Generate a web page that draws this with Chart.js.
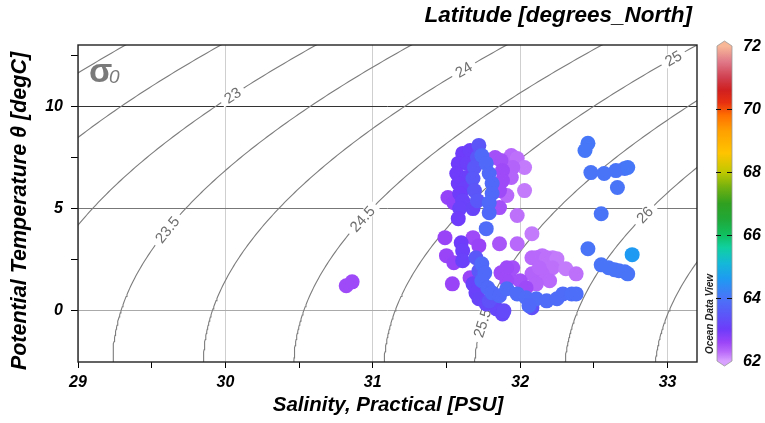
<!DOCTYPE html>
<html>
<head>
<meta charset="utf-8">
<script src="https://cdn.jsdelivr.net/npm/chart.js@4.4.1/dist/chart.umd.min.js"></script>
<style>
  html, body { margin: 0; padding: 0; background: #fff; }
</style>
</head>
<body>
<canvas id="myChart" width="765" height="423"></canvas>
<script>
// station samples: salinity [PSU], potential temperature [degC], latitude [degN]
const salinity = [
  31.94, 31.98, 32.03, 31.95, 31.94, 31.91, 32.03, 31.98, 31.98, 32.08, 32.08, 32.15, 32.22, 32.11, 32.18, 32.25, 32.22, 32.31, 32.38, 32.15, 32.08, 32.20, 32.11, 32.13, 31.86,
  30.82, 30.86, 31.83, 31.87, 31.88, 31.88, 31.86, 31.51, 31.55, 31.86, 31.49, 31.68, 31.72, 31.50, 31.55, 31.54, 31.66, 31.87, 31.93, 32.00, 31.95, 31.91, 31.91, 32.04,
  31.61, 31.66, 31.58, 31.64, 31.57, 31.64, 31.58, 31.62, 31.59, 31.61, 31.59, 31.68, 31.58, 31.60, 31.61, 31.61, 31.68, 31.70, 31.72, 31.77, 31.84, 31.88, 31.89,
  31.72, 31.71, 31.69, 31.68, 31.69, 31.71, 31.70, 31.72, 31.79, 32.08,
  31.74, 31.77, 31.79, 31.81, 31.81, 31.79, 31.79, 31.77, 31.74, 31.76, 31.74, 31.78, 31.81, 31.86, 31.91, 31.98, 32.04, 32.11, 32.18, 32.25, 32.29, 32.35, 32.38, 32.06,
  32.46, 32.44, 32.48, 32.57, 32.65, 32.71, 32.73, 32.66, 32.55, 32.46, 32.55, 32.60, 32.64, 32.67, 32.71, 32.73, 32.76
];
const potTemp = [
  7.60, 7.45, 7.01, 7.01, 6.52, 5.64, 5.88, 4.66, 3.28, 3.77, 2.60, 2.70, 2.60, 2.60, 2.60, 2.55, 2.11, 2.06, 1.81, 1.81, 1.81, 1.47, 1.32, 2.11, 3.28,
  1.23, 1.42, 7.50, 7.35, 6.86, 6.37, 5.88, 5.54, 5.29, 5.05, 3.58, 3.58, 3.19, 2.70, 2.35, 1.32, 1.62, 1.86, 1.62, 1.47, 2.11, 2.11, 1.47, 1.13,
  7.70, 7.84, 7.21, 7.21, 6.72, 6.52, 6.23, 5.98, 5.74, 5.39, 5.00, 5.00, 4.51, 3.33, 2.94, 2.45, 1.32, 0.88, 0.59, 0.34, 0.10, -0.15, 0.00,
  8.09, 7.50, 7.01, 6.47, 5.88, 5.39, 2.60, 1.96, 0.49, 0.15,
  7.60, 7.21, 6.72, 6.23, 5.74, 5.29, 4.80, 4.02, 2.30, 1.86, 1.47, 1.13, 0.88, 0.74, 1.08, 0.83, 0.64, 0.59, 0.49, 0.59, 0.83, 0.83, 0.83, 0.25,
  8.19, 7.84, 6.76, 6.72, 6.86, 6.96, 7.01, 6.03, 4.75, 3.04, 2.25, 2.11, 2.01, 1.96, 1.91, 1.81, 2.75
];
const latitude = [
  62.3, 62.25, 62.2, 62.35, 62.35, 62.3, 62.2, 62.25, 62.3, 62.2, 62.3, 62.25, 62.2, 62.3, 62.25, 62.2, 62.25, 62.2, 62.25, 62.3, 62.35, 62.3, 62.35, 62.3, 62.45,
  62.55, 62.55, 62.5, 62.5, 62.55, 62.55, 62.55, 62.65, 62.7, 62.5, 62.6, 62.55, 62.6, 62.6, 62.65, 62.6, 62.6, 62.55, 62.5, 62.5, 62.5, 62.55, 62.55, 62.55,
  63.0, 63.05, 63.0, 63.05, 63.0, 63.05, 63.0, 63.05, 63.0, 63.1, 63.1, 63.15, 63.0, 63.0, 63.05, 63.1, 63.1, 63.1, 63.15, 63.2, 63.2, 63.2, 63.25,
  63.45, 63.45, 63.5, 63.5, 63.45, 63.5, 63.5, 63.5, 63.4, 63.35,
  63.8, 63.8, 63.8, 63.8, 63.8, 63.8, 63.8, 63.85, 63.8, 63.8, 63.8, 63.8, 63.8, 63.8, 63.85, 63.85, 63.85, 63.85, 63.85, 63.85, 63.85, 63.9, 63.9, 63.8,
  64.05, 64.05, 64.0, 64.0, 64.0, 64.0, 64.05, 64.0, 64.0, 64.0, 64.0, 64.0, 64.0, 64.0, 64.0, 64.0, 64.6
];

const xTicks = [29, 29.5, 30, 30.5, 31, 31.5, 32, 32.5, 33];
const yTicks = [0, 2.5, 5, 7.5, 10, 12.5];
const sigmaLevels = [21.5, 22, 22.5, 23, 23.5, 24, 24.5, 25, 25.5, 26, 26.5, 27];
const cbarTicks = [62, 64, 66, 68, 70, 72];

// ODV rainbow-ish palette, latitude -> colour
const palette = [
  [62.0, "#d8a0ff"], [62.3, "#b868fa"], [62.6, "#9a44f8"], [63.0, "#6e3cfa"],
  [63.5, "#5a58f8"], [64.0, "#4a74f8"], [64.6, "#1e9af2"], [65.1, "#14b8d8"],
  [65.6, "#10d0a0"], [66.0, "#10c060"], [66.5, "#20a838"], [67.0, "#30a020"],
  [67.5, "#70b010"], [68.0, "#c0c800"], [68.6, "#ffc400"], [69.3, "#ffa000"],
  [69.8, "#ff7000"], [70.2, "#e83010"], [70.6, "#d02020"], [71.0, "#d04050"],
  [71.5, "#e07888"], [72.0, "#f8b898"]
];

function hexRgb(h) {
  return [parseInt(h.slice(1, 3), 16), parseInt(h.slice(3, 5), 16), parseInt(h.slice(5, 7), 16)];
}
function latColor(v) {
  if (v <= palette[0][0]) return palette[0][1];
  for (let i = 1; i < palette.length; i++) {
    if (v <= palette[i][0]) {
      const f = (v - palette[i - 1][0]) / (palette[i][0] - palette[i - 1][0]);
      const a = hexRgb(palette[i - 1][1]), b = hexRgb(palette[i][1]);
      const c = a.map((k, j) => Math.round(k + (b[j] - k) * f));
      return `rgb(${c[0]},${c[1]},${c[2]})`;
    }
  }
  return palette[palette.length - 1][1];
}

// UNESCO EOS-80 density at the surface, minus 1000
function sigma0(s, t) {
  const rw = 999.842594 + 6.793952e-2 * t - 9.09529e-3 * t * t + 1.001685e-4 * t ** 3
    - 1.120083e-6 * t ** 4 + 6.536332e-9 * t ** 5;
  const A = 8.24493e-1 - 4.0899e-3 * t + 7.6438e-5 * t * t - 8.2467e-7 * t ** 3 + 5.3875e-9 * t ** 4;
  const B = -5.72466e-3 + 1.0227e-4 * t - 1.6546e-6 * t * t;
  const C = 4.8314e-4;
  return rw + A * s + B * s ** 1.5 + C * s * s - 1000;
}
// salinity on an isopycnal at a given temperature
function salOn(level, t) {
  let lo = 0, hi = 50;
  for (let i = 0; i < 50; i++) {
    const mid = (lo + hi) / 2;
    if (sigma0(mid, t) < level) lo = mid; else hi = mid;
  }
  return (lo + hi) / 2;
}

// where the isopycnal labels sit (temperature along each line)
const labelSpots = [[23, 10.54], [23.5, 3.97], [24, 11.8], [24.5, 4.5], [25, 12.35], [25.5, -0.59], [26, 4.7]];

const contourSets = sigmaLevels.map((lev) => {
  const pts = [];
  for (let t = -3; t <= 13.6; t += 0.1) pts.push({ x: salOn(lev, t), y: t });
  return {
    data: pts,
    showLine: true,
    pointRadius: 0,
    borderColor: "#7c7c7c",
    borderWidth: 1.1,
    tension: 0,
    clip: 0,
  };
});

const samples = salinity.map((s, i) => ({ x: s, y: potTemp[i] }));
const sampleColors = latitude.map(latColor);

const FONT = "'Liberation Sans', Arial, sans-serif";

const decor = {
  id: "odvDecor",
  afterDatasetDraw(chart, args) {
    // labels go on top of the last isopycnal drawn, below the samples
    if (args.index !== 1) return;
    const { ctx, scales: { x, y } } = chart;
    ctx.save();
    ctx.font = `15px ${FONT}`;
    ctx.textAlign = "center";
    ctx.textBaseline = "middle";
    labelSpots.forEach(([lev, t]) => {
      const px = x.getPixelForValue(salOn(lev, t));
      const py = y.getPixelForValue(t);
      const ang = Math.atan2(
        y.getPixelForValue(t + 0.2) - y.getPixelForValue(t - 0.2),
        x.getPixelForValue(salOn(lev, t + 0.2)) - x.getPixelForValue(salOn(lev, t - 0.2))
      );
      const txt = String(lev);
      const w = ctx.measureText(txt).width;
      ctx.save();
      ctx.translate(px, py);
      ctx.rotate(ang);
      ctx.fillStyle = "#fff";
      ctx.fillRect(-w / 2 - 5, -6, w + 10, 12);
      ctx.fillStyle = "#6e6e6e";
      ctx.fillText(txt, 0, 1);
      ctx.restore();
    });
    ctx.restore();
  },
  afterDraw(chart) {
    const { ctx, chartArea: a } = chart;
    ctx.save();
    // frame
    ctx.strokeStyle = "#222";
    ctx.lineWidth = 1.4;
    ctx.strokeRect(a.left, a.top, a.right - a.left, a.bottom - a.top);

    // sigma-0 tag
    ctx.fillStyle = "#7a7a7a";
    ctx.textBaseline = "alphabetic";
    ctx.textAlign = "left";
    ctx.font = `bold 34px ${FONT}`;
    ctx.fillText("σ", 89, 82);
    ctx.font = `italic 19px ${FONT}`;
    ctx.fillText("0", 109, 83);

    // axis titles
    ctx.fillStyle = "#000";
    ctx.textAlign = "center";
    ctx.textBaseline = "middle";
    ctx.font = `bold italic 20.5px ${FONT}`;
    ctx.fillText("Salinity, Practical [PSU]", 388, 405);
    ctx.save();
    ctx.translate(20, 211);
    ctx.rotate(-Math.PI / 2);
    ctx.font = `bold italic 21.5px ${FONT}`;
    ctx.fillText("Potential Temperature θ [degC]", 0, 0);
    ctx.restore();
    ctx.textAlign = "right";
    ctx.font = `bold italic 22.5px ${FONT}`;
    ctx.fillText("Latitude [degrees_North]", 692, 16);

    // colour bar
    const bl = 717, br = 732, bt = 46, bb = 361;
    const yOf = (v) => bb - (v - 62) / 10 * (bb - bt);
    const grad = ctx.createLinearGradient(0, bb, 0, bt);
    palette.forEach(([v, c]) => grad.addColorStop((v - 62) / 10, c));
    ctx.fillStyle = grad;
    ctx.fillRect(bl, bt, br - bl, bb - bt);
    ctx.fillStyle = palette[palette.length - 1][1];
    ctx.beginPath();
    ctx.moveTo(bl, bt); ctx.lineTo((bl + br) / 2, bt - 5); ctx.lineTo(br, bt); ctx.closePath();
    ctx.fill();
    ctx.fillStyle = palette[0][1];
    ctx.beginPath();
    ctx.moveTo(bl, bb); ctx.lineTo((bl + br) / 2, bb + 5); ctx.lineTo(br, bb); ctx.closePath();
    ctx.fill();
    ctx.strokeStyle = "#999";
    ctx.lineWidth = 0.8;
    ctx.beginPath();
    ctx.moveTo(bl, bt); ctx.lineTo((bl + br) / 2, bt - 5); ctx.lineTo(br, bt);
    ctx.lineTo(br, bb); ctx.lineTo((bl + br) / 2, bb + 5); ctx.lineTo(bl, bb); ctx.closePath();
    ctx.stroke();

    ctx.strokeStyle = "#111";
    ctx.lineWidth = 1.2;
    ctx.fillStyle = "#000";
    ctx.font = `bold italic 16px ${FONT}`;
    ctx.textAlign = "left";
    ctx.textBaseline = "middle";
    cbarTicks.forEach((v) => {
      const yy = Math.round(yOf(v)) + 0.5;
      if (v > 62 && v < 72) {
        ctx.beginPath();
        ctx.moveTo(bl - 1, yy); ctx.lineTo(bl + 4, yy);
        ctx.moveTo(br - 5, yy); ctx.lineTo(br, yy);
        ctx.stroke();
      }
      ctx.fillText(String(v), 743, yy);
    });

    ctx.save();
    ctx.translate(710, 314);
    ctx.rotate(-Math.PI / 2);
    ctx.font = `italic bold 10px ${FONT}`;
    ctx.textAlign = "center";
    ctx.fillStyle = "#222";
    ctx.fillText("Ocean Data View", 0, 0);
    ctx.restore();
    ctx.restore();
  },
};

const tickFont = { family: FONT, size: 16, weight: "bold", style: "italic" };

new Chart(document.getElementById("myChart"), {
  type: "scatter",
  data: {
    datasets: [
      {
        data: samples,
        pointRadius: 7.5,
        pointHoverRadius: 7.5,
        pointBackgroundColor: sampleColors,
        pointBorderWidth: 0,
        borderWidth: 0,
        clip: 0,
      },
      ...contourSets,
    ],
  },
  options: {
    responsive: false,
    animation: false,
    events: [],
    layout: { padding: { left: 0, top: 45, right: 68, bottom: 0 } },
    plugins: { legend: { display: false }, tooltip: { enabled: false } },
    scales: {
      x: {
        type: "linear",
        min: 29,
        max: 33.2,
        afterBuildTicks: (axis) => { axis.ticks = xTicks.map((v) => ({ value: v })); },
        afterFit: (axis) => { axis.height = 61; },
        ticks: {
          autoSkip: false,
          maxRotation: 0,
          padding: 5,
          color: "#000",
          font: tickFont,
          callback: (v) => (Number.isInteger(v) ? String(v) : ""),
        },
        grid: {
          color: (c) => (c.tick && Number.isInteger(c.tick.value) ? "#cfcfcf" : "rgba(0,0,0,0)"),
          tickColor: "#000",
          tickLength: 6,
        },
        border: { display: false },
      },
      y: {
        type: "linear",
        min: -2.5,
        max: 13,
        afterBuildTicks: (axis) => { axis.ticks = yTicks.map((v) => ({ value: v })); },
        afterFit: (axis) => { axis.width = 78; },
        ticks: {
          autoSkip: false,
          padding: 8,
          color: "#000",
          font: tickFont,
          callback: (v) => (v % 5 === 0 ? String(v) : ""),
        },
        grid: {
          color: (c) => {
            if (!c.tick) return "rgba(0,0,0,0)";
            if (c.tick.value === 10) return "#333";
            if (c.tick.value === 5) return "#777";
            if (c.tick.value === 0) return "#aaa";
            return "rgba(0,0,0,0)";
          },
          tickColor: "#000",
          tickLength: 7,
        },
        border: { display: false },
      },
    },
  },
  plugins: [decor],
});
</script>
</body>
</html>
